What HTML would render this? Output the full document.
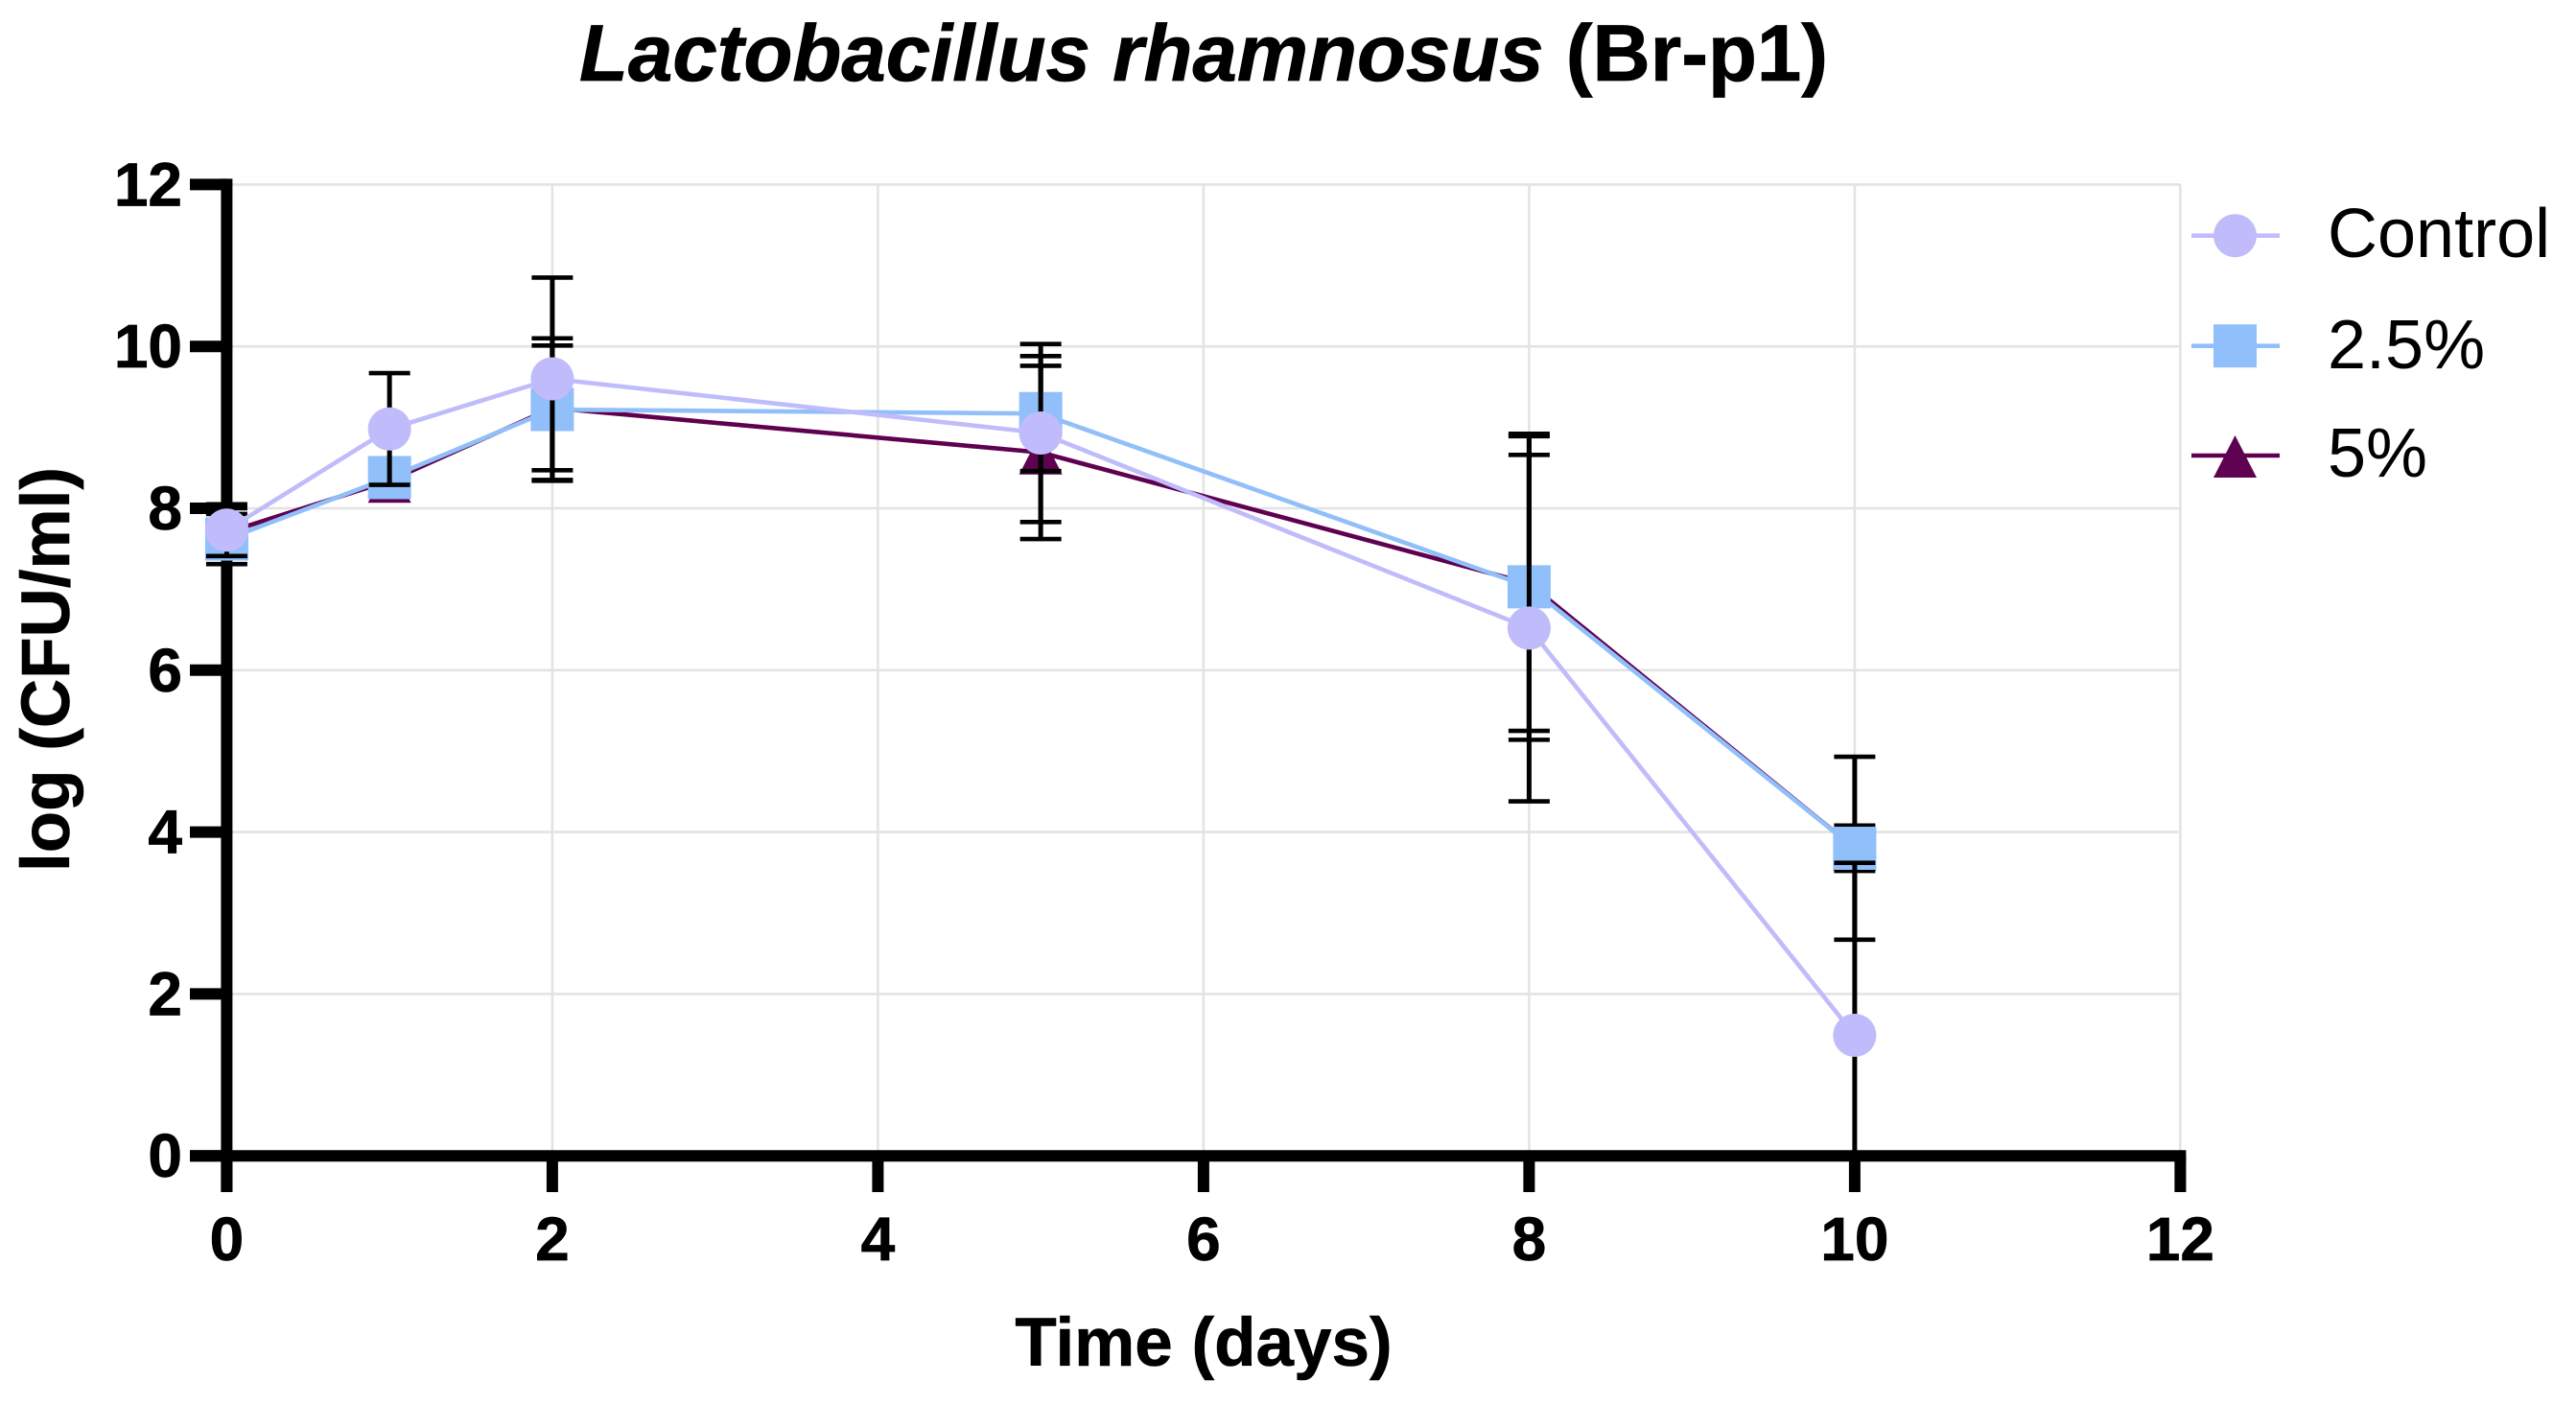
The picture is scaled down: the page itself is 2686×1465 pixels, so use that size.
<!DOCTYPE html>
<html lang="en">
<head>
<meta charset="utf-8">
<title>Lactobacillus rhamnosus (Br-p1)</title>
<style>
html,body{margin:0;padding:0;background:#fff;}
svg{display:block;font-family:"Liberation Sans",sans-serif;}
</style>
</head>
<body>
<svg id="chart" xmlns="http://www.w3.org/2000/svg" width="2686" height="1465" viewBox="0 0 2686 1465">
  <rect x="0" y="0" width="2686" height="1465" fill="#ffffff"/>
  <text x="604" y="84" font-size="83.4" font-weight="bold" fill="#000" stroke="#000" stroke-width="0.8"><tspan font-style="italic">Lactobacillus rhamnosus</tspan> (Br-p1)</text>
  <text x="1255" y="1424" font-size="71" font-weight="bold" text-anchor="middle" fill="#000" stroke="#000" stroke-width="0.6">Time (days)</text>
  <text transform="translate(72,698) rotate(-90)" font-size="71" font-weight="bold" text-anchor="middle" fill="#000" stroke="#000" stroke-width="0.6">log (CFU/ml)</text>
  <g id="grid"></g>
  <g id="axes"></g>
  <g id="series"></g>
  <g id="legend"></g>
</svg>
<script>
const days = [0, 1, 2, 5, 8, 10];
const xTicks = [0, 2, 4, 6, 8, 10, 12];
const yTicks = [0, 2, 4, 6, 8, 10, 12];
const seriesNames = ['5%', '2.5%', 'Control'];
const fivePctMeans = [7.70, 8.34, 9.24, 8.69, 7.07, 3.80];
const fivePctSd = [0.30, 0.20, 0.77, 1.07, 1.82, 1.13];
const twoHalfPctMeans = [7.62, 8.38, 9.22, 9.17, 7.03, 3.80];
const twoHalfPctSd = [0.31, 0.20, 0.88, 0.71, 1.89, 0.28];
const controlMeans = [7.73, 8.98, 9.60, 8.93, 6.52, 1.49];
const controlSd = [0.32, 0.69, 1.25, 1.10, 2.14, 2.13];

const X_ORIGIN = 236.4, X_UNIT = 169.75;
const Y_ORIGIN = 1205.2, Y_UNIT = 84.4;
const NS = 'http://www.w3.org/2000/svg';
const xScale = function (v) { return X_ORIGIN + v * X_UNIT; };
const yScale = function (v) { return Y_ORIGIN - v * Y_UNIT; };

function mk(tag, attrs, parent) {
  const el = document.createElementNS(NS, tag);
  for (const k in attrs) el.setAttribute(k, attrs[k]);
  parent.appendChild(el);
  return el;
}

const gridG = document.getElementById('grid');
const axesG = document.getElementById('axes');
const seriesG = document.getElementById('series');
const legendG = document.getElementById('legend');
const GRID = '#e3e3e3';

xTicks.forEach(function (t) {
  if (t === 0) return;
  const l = mk('line', {x1: xScale(t), x2: xScale(t), y1: yScale(12), y2: yScale(0), stroke: GRID, 'stroke-width': 2.6}, gridG);
  
  
});
yTicks.forEach(function (t) {
  if (t === 0) return;
  const l = mk('line', {x1: xScale(0), x2: xScale(12), y1: yScale(t), y2: yScale(t), stroke: GRID, 'stroke-width': 2.6}, gridG);
  
  
});

const TICK_W = 12;
const yAxisLine = mk('line', {x1: xScale(0), x2: xScale(0), y1: yScale(12) - TICK_W / 2, y2: 1243, stroke: '#000', 'stroke-width': TICK_W}, axesG);


const xAxisLine = mk('line', {x1: 198, x2: xScale(12) + TICK_W / 2, y1: yScale(0), y2: yScale(0), stroke: '#000', 'stroke-width': TICK_W}, axesG);



xTicks.forEach(function (t) {
  const m = mk('line', {x1: xScale(t), x2: xScale(t), y1: yScale(0), y2: 1243, stroke: '#000', 'stroke-width': TICK_W}, axesG);
  
  
  const tx = mk('text', {x: xScale(t), y: 1314, 'font-size': 64, 'font-weight': 'bold', 'text-anchor': 'middle', fill: '#000', stroke: '#000', 'stroke-width': 0.7}, axesG);
  tx.textContent = String(t);
  
  
});
yTicks.forEach(function (t) {
  const m = mk('line', {x1: 198, x2: xScale(0), y1: yScale(t), y2: yScale(t), stroke: '#000', 'stroke-width': TICK_W}, axesG);
  
  
  const tx = mk('text', {x: 190, y: yScale(t) + 22, 'font-size': 64, 'font-weight': 'bold', 'text-anchor': 'end', fill: '#000', stroke: '#000', 'stroke-width': 0.7}, axesG);
  tx.textContent = String(t);
  
  
});

function drawMarker(shape, cx, cy, color, parent) {
  let el;
  if (shape === 'circle') {
    el = mk('circle', {cx: cx, cy: cy, r: 22.5, fill: color}, parent);
  } else if (shape === 'square') {
    el = mk('rect', {x: cx - 22.5, y: cy - 22.5, width: 45, height: 45, fill: color}, parent);
  } else {
    el = mk('polygon', {points: (cx - 22.5) + ',' + (cy + 23) + ' ' + (cx + 22.5) + ',' + (cy + 23) + ' ' + cx + ',' + (cy - 21), fill: color}, parent);
  }
  return el;
}

const seriesMeans = [fivePctMeans, twoHalfPctMeans, controlMeans];
const seriesSds = [fivePctSd, twoHalfPctSd, controlSd];
const seriesColors = ['#5f0050', '#90bffa', '#c0bcfb'];
const seriesShapes = ['triangle', 'square', 'circle'];
const seriesSlugs = ['five-percent', 'two-point-five-percent', 'control'];

seriesNames.forEach(function (name, i) {
  const means = seriesMeans[i];
  const sds = seriesSds[i];
  const g = mk('g', {}, seriesG);
  
  

  const pts = days.map(function (d, j) { return xScale(d) + ',' + yScale(means[j]); }).join(' ');
  const line = mk('polyline', {points: pts, fill: 'none', stroke: seriesColors[i], 'stroke-width': 4.6}, g);
  
  

  days.forEach(function (d, j) {
    const cx = xScale(d);
    const hi = means[j] + sds[j];
    const lo = means[j] - sds[j];
    const clipped = lo < 0;
    const loV = clipped ? 0 : lo;
    const stem = mk('line', {x1: cx, x2: cx, y1: yScale(hi), y2: yScale(loV), stroke: '#000', 'stroke-width': 5}, g);
    
    
    const capTop = mk('line', {x1: cx - 21.5, x2: cx + 21.5, y1: yScale(hi), y2: yScale(hi), stroke: '#000', 'stroke-width': 4.6}, g);
    
    
    if (!clipped) {
      const capBot = mk('line', {x1: cx - 21.5, x2: cx + 21.5, y1: yScale(lo), y2: yScale(lo), stroke: '#000', 'stroke-width': 4.6}, g);
      
      
    }
    const marker = drawMarker(seriesShapes[i], cx, yScale(means[j]), seriesColors[i], g);
    
    
  });
});

const legendOrder = [2, 1, 0];
const legendRowY = [245.7, 360.7, 475];
const legendBaseline = [268, 384, 497];
legendOrder.forEach(function (si, r) {
  const g = mk('g', {}, legendG);
  
  
  const ln = mk('line', {x1: 2285, x2: 2377, y1: legendRowY[r], y2: legendRowY[r], stroke: seriesColors[si], 'stroke-width': 4.6}, g);
  
  
  const mkr = drawMarker(seriesShapes[si], 2330.5, legendRowY[r], seriesColors[si], g);
  
  
  const tx = mk('text', {x: 2427, y: legendBaseline[r], 'font-size': 72, fill: '#000'}, g);
  tx.textContent = seriesNames[si];
  
  
});
</script>
</body>
</html>
